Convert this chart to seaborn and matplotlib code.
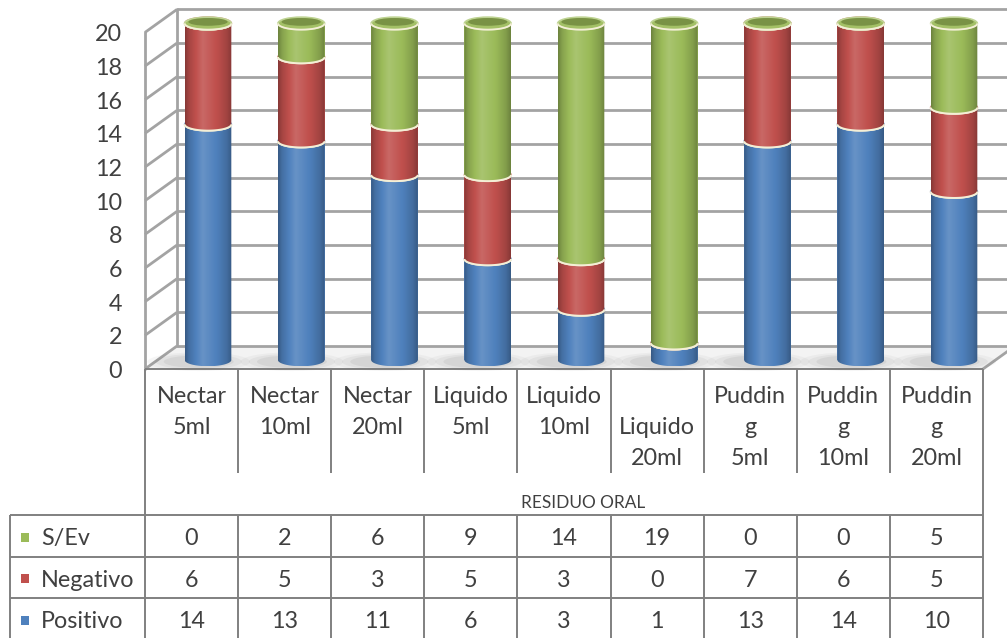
import numpy as np
import matplotlib
matplotlib.use("Agg")
import matplotlib.pyplot as plt
import matplotlib.transforms as mtransforms
from matplotlib.path import Path
from matplotlib.patches import Ellipse, Polygon, Rectangle
from matplotlib.colors import to_rgb
import seaborn as sns

# ---------------------------------------------------------------- data
categories = ["Nectar 5ml", "Nectar 10ml", "Nectar 20ml",
              "Liquido 5ml", "Liquido 10ml", "Liquido 20ml",
              "Pudding 5ml", "Pudding 10ml", "Pudding 20ml"]
header_labels = ["Nectar\n5ml", "Nectar\n10ml", "Nectar\n20ml",
                 "Liquido\n5ml", "Liquido\n10ml", "\nLiquido\n20ml",
                 "Puddin\ng\n5ml", "Puddin\ng\n10ml", "Puddin\ng\n20ml"]
positivo = [14, 13, 11, 6, 3, 1, 13, 14, 10]
negativo = [6, 5, 3, 5, 3, 0, 7, 6, 5]
sev = [0, 2, 6, 9, 14, 19, 0, 0, 5]
y_ticks = [0, 2, 4, 6, 8, 10, 12, 14, 16, 18, 20]
axis_title = "RESIDUO ORAL"
series_colors = {"Positivo": "#4F81BD", "Negativo": "#C0504D", "S/Ev": "#9BBB59"}

# ---------------------------------------------------------------- style
sns.set_theme(style="white")
plt.rcParams["font.family"] = ["Lato", "DejaVu Sans"]
TEXT = "#404040"
GRID = "#a3a3a3"
TABLE = "#808080"
PALE = "#f4efd6"
FS = 16.8

W, H = 1007, 638
fig = plt.figure(figsize=(W / 100, H / 100), dpi=100)
fig.patch.set_facecolor("white")

# background layer in pixel units (y grows downward): walls, floor, table
bg = fig.add_axes([0, 0, 1, 1], zorder=0)
bg.set_xlim(0, W)
bg.set_ylim(H, 0)
bg.axis("off")

# plotting layer for the cylinders
PL, PR, PT, PB = 140, 1007, 0, 372
ax = fig.add_axes([PL / W, 1 - PB / H, (PR - PL) / W, (PB - PT) / H], zorder=1)
ax.patch.set_alpha(0)

X0, DX = 208.0, 93.25     # pixel centre of first category, spacing
Y0, DY = 360.0, 16.83     # pixel of value 0, pixels per unit
XLIM = ((PL - X0) / DX, (PR - X0) / DX)
YLIM = ((Y0 - PB) / DY, (Y0 - PT) / DY)
EH = 12.5 / DY            # ellipse height of cylinder ends (data units)

FRONT = (-11, 9)          # depth shift of front plane (pixels, image orientation)
BACK = (21, -14)          # depth shift of back wall


def shade(c, f):
    c = np.array(to_rgb(c))
    if f <= 1:
        return tuple(c * f)
    return tuple(c + (1 - c) * (f - 1))


def cylinder_gradient(c, n=80):
    u = np.linspace(0, 1, n)
    pos = [0.0, 0.08, 0.38, 0.7, 0.9, 1.0]
    fac = [0.70, 0.86, 1.14, 0.98, 0.84, 0.70]
    f = np.interp(u, pos, fac)
    return np.array([shade(c, v) for v in f])[None, :, :]


def draw_cylinder(rect, color, z):
    x0, y0 = rect.get_x(), rect.get_y()
    w, h = rect.get_width(), rect.get_height()
    xc, a, b = x0 + w / 2, w / 2, EH / 2
    t = np.linspace(0, -np.pi, 60)
    arc_x, arc_y = xc + a * np.cos(t), y0 + b * np.sin(t)
    verts = [(x0, y0 + h), (x0 + w, y0 + h), (x0 + w, y0)]
    verts += list(zip(arc_x, arc_y))
    verts += [(x0, y0 + h)]
    silhouette = Path(verts)
    rect.set_zorder(z - 0.2)
    im = ax.imshow(cylinder_gradient(color), extent=(x0, x0 + w, y0 - b, y0 + h),
                   aspect="auto", interpolation="bilinear", origin="lower", zorder=z)
    im.set_clip_path(silhouette, ax.transData)
    if y0 > 0:
        ax.plot(arc_x, arc_y, color=PALE, lw=1.4, zorder=z + 0.5, solid_capstyle="butt")
    top = y0 + h
    ax.add_patch(Ellipse((xc, top), w, EH, facecolor=shade(color, 1.08),
                         edgecolor=shade(color, 1.35), lw=1.2, zorder=z + 1))
    ax.add_patch(Ellipse((xc, top + EH * 0.12), w * 0.84, EH * 0.62,
                         facecolor=shade(color, 0.78), edgecolor="none", zorder=z + 1.2))
    ax.plot(xc + a * np.cos(t), top + b * np.sin(t), color=PALE, lw=1.3,
            zorder=z + 1.5, solid_capstyle="butt")


# ---------------------------------------------------------------- cylinders
stack = [("Positivo", positivo), ("Negativo", negativo), ("S/Ev", sev)]
bottom = np.zeros(len(categories))
for k, (name, vals) in enumerate(stack):
    start = len(ax.patches)
    sns.barplot(x=categories, y=vals, bottom=bottom.copy(), color=series_colors[name],
                saturation=1, width=0.5, errorbar=None, linewidth=0, ax=ax,
                zorder=3 + 3 * k)
    for rect in ax.patches[start:]:
        draw_cylinder(rect, series_colors[name], 3 + 3 * k)
    bottom = bottom + np.asarray(vals, dtype=float)

# soft shadows on the floor
for i in range(len(categories)):
    for sw, sh, al in [(2.2, 1.5, 0.06), (1.85, 1.25, 0.08), (1.5, 1.0, 0.10)]:
        ax.add_patch(Ellipse((i - 0.1, -0.1), 0.5 * sw, EH * sh, facecolor="#707070",
                             edgecolor="none", alpha=al, zorder=1.5))

ax.set_xlim(*XLIM)
ax.set_ylim(*YLIM)
ax.axis("off")


def to_img(x, v, shift):
    X, Y = ax.transData.transform((x, v))
    return X + shift[0], (H - Y) + shift[1]


# ---------------------------------------------------------------- walls & floor
wall_x = (145 - FRONT[0] - X0) / DX
right_x = (983 - FRONT[0] - X0) / DX
fl = to_img(wall_x, 0, FRONT)
fr = to_img(right_x, 0, FRONT)
br = to_img(right_x, 0, BACK)
bl = to_img(wall_x, 0, BACK)
bg.add_patch(Polygon([fl, fr, br, bl], closed=True,
                     facecolor="#f3f3f3", edgecolor="none", zorder=0.5))
for v in y_ticks:
    fx, fy = to_img(wall_x, v, FRONT)
    bx, by = to_img(wall_x, v, BACK)
    bg.plot([fx, bx], [fy, by], color=GRID, lw=2, zorder=1, solid_capstyle="butt")
    bg.plot([bx, W + 5], [by, by], color=GRID, lw=2, zorder=1, solid_capstyle="butt")
ftx, fty = to_img(wall_x, y_ticks[-1], FRONT)
btx, bty = to_img(wall_x, y_ticks[-1], BACK)
bg.plot([ftx, fl[0]], [fty, fl[1]], color=GRID, lw=2, zorder=1)
bg.plot([btx, bl[0]], [bty, bl[1]], color=GRID, lw=2, zorder=1)
bg.plot([fr[0], br[0]], [fr[1], br[1]], color=GRID, lw=2, zorder=1)

# value axis labels on the front edge
lab_tr = ax.get_yaxis_transform() + mtransforms.ScaledTranslation(0, -18 / 100, fig.dpi_scale_trans)
for v in y_ticks:
    ax.text((122 - PL) / (PR - PL), v, str(v), transform=lab_tr, ha="right",
            va="baseline", fontsize=FS, color=TEXT, clip_on=False)

# ---------------------------------------------------------------- data table
C0, C1 = 145.0, 983.0
CW = (C1 - C0) / len(categories)
TOP = fl[1]
HEAD_B, R1, R2, TB = 515, 557, 598, 640
LEFT = 10

lk = dict(color=TABLE, lw=1.4, zorder=2, solid_capstyle="butt")
bg.plot([C0, C1], [TOP, TOP], **lk)
bg.plot([C0, C0], [TOP, TB], **lk)
bg.plot([C1, C1], [TOP, TB], **lk)
for k in range(1, len(categories)):
    xk = C0 + k * CW
    bg.plot([xk, xk], [TOP, 473], **lk)
    bg.plot([xk, xk], [HEAD_B, TB], **lk)
for yy in [HEAD_B, R1, R2]:
    bg.plot([LEFT, C1], [yy, yy], **lk)
bg.plot([LEFT, LEFT], [HEAD_B, TB], **lk)

# category headers
line_base = [403, 434, 465]
for i, lab in enumerate(header_labels):
    xc = C0 + (i + 0.5) * CW
    for j, part in enumerate(lab.split("\n")):
        if part:
            bg.text(xc, line_base[j], part, ha="center", va="baseline",
                    fontsize=FS, color=TEXT)

bg.text(583, 508, axis_title, ha="center", va="baseline", fontsize=12.4, color=TEXT)

# series rows
rows = [("S/Ev", sev, 545, 537), ("Negativo", negativo, 587, 578), ("Positivo", positivo, 628, 620)]
for name, vals, base, kc in rows:
    bg.add_patch(Rectangle((20.5, kc - 4.5), 8.5, 9, facecolor=series_colors[name],
                           edgecolor="none", zorder=2))
    bg.text(41, base, name, ha="left", va="baseline", fontsize=FS, color=TEXT)
    for i, v in enumerate(vals):
        bg.text(C0 + (i + 0.5) * CW, base, str(v), ha="center", va="baseline",
                fontsize=FS, color=TEXT)

fig.savefig("out.png", dpi=100, facecolor="white")
